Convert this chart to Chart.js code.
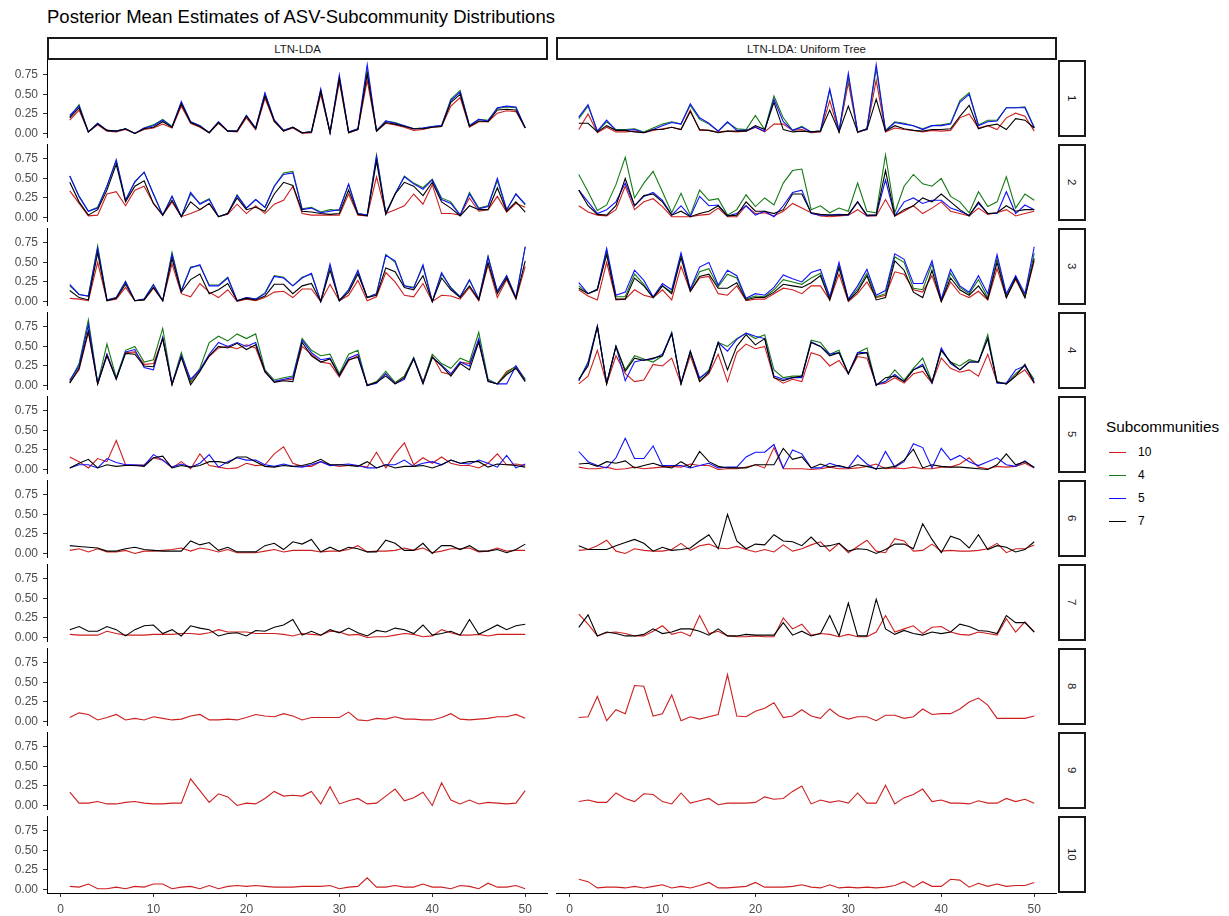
<!DOCTYPE html>
<html>
<head>
<meta charset="utf-8">
<title>Posterior Mean Estimates of ASV-Subcommunity Distributions</title>
<script src="https://cdn.jsdelivr.net/npm/chart.js@4.4.1/dist/chart.umd.min.js"></script>
<style>
  body { margin: 0; background: #fff; font-family: "Liberation Sans", Arial, sans-serif; }
  #page { position: relative; width: 1229px; height: 916px; overflow: hidden; }
  .ptitle { position: absolute; font-size: 18.5px; color: #000; white-space: nowrap; }
  .strip { position: absolute; box-sizing: border-box; border: 2px solid #1a1a1a; background: #fff;
           display: flex; align-items: center; justify-content: center; font-size: 11.4px; color: #1a1a1a; }
  .strip.row span { writing-mode: vertical-rl; }
  canvas { position: absolute; }
  .ltitle { position: absolute; left: 1106px; top: 418px; font-size: 15.3px; color: #000; }
  .lkey { position: absolute; left: 1109px; width: 17px; height: 1px; }
  .llab { position: absolute; left: 1138px; font-size: 12px; color: #000; line-height: 14px; }
</style>
</head>
<body>
<div id="page"></div>
<script>
// ASV index and axis ticks
const asv = [1,2,3,4,5,6,7,8,9,10,11,12,13,14,15,16,17,18,19,20,21,22,23,24,25,
             26,27,28,29,30,31,32,33,34,35,36,37,38,39,40,41,42,43,44,45,46,47,48,49,50];
const xTicks = [0, 10, 20, 30, 40, 50];
const yTicks = [0, 0.25, 0.5, 0.75];
const columns = ['LTN-LDA', 'LTN-LDA: Uniform Tree'];
const rowLabels = ['1','2','3','4','5','6','7','8','9','10'];
const subcommunities = ['10', '4', '5', '7'];

// LTN-LDA, subcommunity 1..10  (L<row>_<model>)
const L1_10 = [0.17,0.30,0.02,0.11,0.03,0.02,0.05,0.00,0.05,0.07,0.12,0.07,0.35,0.13,0.08,0.01,0.13,0.03,0.02,0.20,0.05,0.45,0.15,0.03,0.07,0.00,0.01,0.50,0.01,0.66,0.01,0.05,0.68,0.03,0.13,0.11,0.08,0.04,0.05,0.08,0.09,0.35,0.46,0.08,0.15,0.15,0.26,0.29,0.28,0.07];
const L1_4  = [0.21,0.37,0.02,0.13,0.04,0.03,0.06,0.00,0.07,0.11,0.18,0.09,0.39,0.15,0.10,0.01,0.15,0.03,0.03,0.23,0.07,0.51,0.17,0.04,0.08,0.01,0.02,0.55,0.01,0.72,0.02,0.06,0.80,0.04,0.16,0.14,0.10,0.06,0.07,0.09,0.10,0.44,0.55,0.10,0.18,0.17,0.32,0.34,0.33,0.07];
const L1_5  = [0.23,0.35,0.02,0.13,0.04,0.03,0.06,0.00,0.07,0.10,0.17,0.08,0.41,0.15,0.10,0.01,0.15,0.03,0.03,0.23,0.07,0.52,0.17,0.04,0.08,0.01,0.02,0.57,0.01,0.75,0.02,0.06,0.88,0.03,0.16,0.13,0.10,0.06,0.07,0.09,0.10,0.42,0.53,0.10,0.18,0.16,0.33,0.35,0.34,0.07];
const L1_7  = [0.20,0.33,0.02,0.12,0.04,0.03,0.06,0.00,0.06,0.08,0.15,0.08,0.38,0.14,0.09,0.01,0.14,0.03,0.03,0.22,0.06,0.48,0.16,0.03,0.08,0.01,0.02,0.54,0.01,0.70,0.01,0.05,0.76,0.03,0.14,0.12,0.09,0.06,0.06,0.08,0.09,0.40,0.50,0.09,0.16,0.15,0.30,0.31,0.30,0.07];

const L2_10 = [0.34,0.18,0.02,0.03,0.30,0.33,0.15,0.35,0.40,0.18,0.03,0.20,0.01,0.05,0.10,0.18,0.01,0.04,0.17,0.05,0.15,0.05,0.17,0.22,0.40,0.05,0.03,0.03,0.03,0.03,0.30,0.03,0.02,0.52,0.05,0.10,0.15,0.30,0.17,0.42,0.05,0.05,0.03,0.25,0.08,0.10,0.27,0.07,0.18,0.13];
const L2_4  = [0.53,0.27,0.08,0.13,0.40,0.72,0.22,0.45,0.58,0.30,0.03,0.27,0.01,0.30,0.18,0.24,0.01,0.05,0.29,0.12,0.23,0.13,0.40,0.57,0.59,0.11,0.13,0.07,0.10,0.09,0.42,0.05,0.03,0.80,0.06,0.30,0.53,0.44,0.38,0.49,0.25,0.20,0.03,0.32,0.12,0.15,0.47,0.10,0.30,0.16];
const L2_5  = [0.53,0.27,0.08,0.12,0.40,0.74,0.22,0.46,0.58,0.30,0.03,0.27,0.01,0.32,0.17,0.23,0.01,0.05,0.28,0.12,0.23,0.13,0.40,0.55,0.57,0.10,0.12,0.06,0.08,0.10,0.43,0.05,0.03,0.78,0.05,0.30,0.52,0.43,0.36,0.48,0.23,0.18,0.03,0.30,0.11,0.14,0.50,0.10,0.30,0.17];
const L2_7  = [0.45,0.20,0.03,0.10,0.35,0.68,0.20,0.40,0.47,0.18,0.03,0.22,0.01,0.20,0.10,0.18,0.01,0.05,0.25,0.10,0.13,0.08,0.30,0.45,0.41,0.08,0.07,0.05,0.04,0.05,0.35,0.04,0.02,0.72,0.04,0.30,0.45,0.40,0.28,0.45,0.20,0.12,0.02,0.15,0.10,0.10,0.38,0.08,0.20,0.07];

const L3_10 = [0.04,0.03,0.01,0.50,0.01,0.03,0.18,0.01,0.02,0.17,0.01,0.48,0.10,0.06,0.23,0.12,0.05,0.15,0.00,0.03,0.01,0.05,0.12,0.13,0.05,0.16,0.16,0.00,0.22,0.01,0.08,0.27,0.01,0.06,0.37,0.25,0.08,0.06,0.23,0.00,0.08,0.07,0.03,0.18,0.01,0.47,0.05,0.28,0.03,0.45];
const L3_4  = [0.20,0.09,0.07,0.71,0.02,0.05,0.26,0.01,0.03,0.22,0.01,0.63,0.14,0.44,0.46,0.21,0.21,0.31,0.01,0.05,0.03,0.11,0.33,0.31,0.20,0.31,0.35,0.00,0.45,0.01,0.15,0.38,0.05,0.10,0.60,0.50,0.20,0.18,0.45,0.00,0.35,0.18,0.06,0.27,0.03,0.58,0.13,0.33,0.05,0.70];
const L3_5  = [0.22,0.09,0.07,0.68,0.02,0.05,0.25,0.01,0.03,0.21,0.01,0.60,0.13,0.43,0.47,0.20,0.20,0.30,0.01,0.05,0.03,0.10,0.32,0.30,0.20,0.30,0.36,0.00,0.48,0.01,0.15,0.40,0.05,0.10,0.59,0.52,0.20,0.17,0.47,0.00,0.37,0.17,0.06,0.28,0.03,0.57,0.13,0.33,0.05,0.70];
const L3_7  = [0.14,0.05,0.02,0.62,0.01,0.04,0.22,0.01,0.02,0.18,0.01,0.55,0.12,0.28,0.35,0.10,0.15,0.23,0.01,0.04,0.02,0.07,0.22,0.22,0.10,0.20,0.23,0.00,0.40,0.01,0.12,0.35,0.05,0.08,0.43,0.38,0.18,0.15,0.33,0.00,0.30,0.15,0.05,0.20,0.02,0.50,0.10,0.30,0.04,0.52];

const L4_10 = [0.04,0.20,0.68,0.02,0.40,0.10,0.42,0.43,0.27,0.28,0.60,0.01,0.38,0.04,0.20,0.37,0.48,0.50,0.47,0.52,0.48,0.17,0.05,0.07,0.08,0.50,0.40,0.30,0.28,0.11,0.32,0.38,0.01,0.04,0.15,0.03,0.12,0.34,0.05,0.38,0.17,0.14,0.30,0.28,0.55,0.06,0.02,0.18,0.24,0.08];
const L4_4  = [0.05,0.28,0.84,0.03,0.53,0.10,0.45,0.50,0.30,0.33,0.73,0.02,0.42,0.05,0.22,0.55,0.63,0.57,0.66,0.60,0.66,0.20,0.07,0.10,0.12,0.60,0.45,0.38,0.40,0.15,0.40,0.45,0.00,0.05,0.18,0.04,0.12,0.36,0.04,0.40,0.28,0.22,0.35,0.30,0.68,0.08,0.02,0.16,0.25,0.08];
const L4_5  = [0.07,0.25,0.78,0.03,0.40,0.08,0.43,0.46,0.23,0.20,0.62,0.02,0.38,0.08,0.20,0.40,0.55,0.50,0.55,0.50,0.55,0.18,0.05,0.08,0.10,0.58,0.42,0.33,0.35,0.12,0.35,0.40,0.00,0.03,0.15,0.02,0.08,0.35,0.03,0.36,0.26,0.15,0.30,0.25,0.60,0.06,0.02,0.02,0.25,0.06];
const L4_7  = [0.03,0.22,0.70,0.02,0.38,0.08,0.41,0.40,0.25,0.24,0.60,0.01,0.36,0.01,0.18,0.38,0.50,0.48,0.54,0.46,0.52,0.18,0.04,0.06,0.05,0.55,0.38,0.30,0.34,0.13,0.33,0.36,0.00,0.04,0.12,0.02,0.10,0.34,0.02,0.36,0.25,0.12,0.28,0.20,0.56,0.05,0.02,0.14,0.22,0.05];

const L5_10 = [0.16,0.10,0.02,0.14,0.10,0.37,0.06,0.05,0.06,0.15,0.12,0.02,0.10,0.01,0.20,0.05,0.03,0.01,0.02,0.08,0.05,0.06,0.20,0.29,0.08,0.04,0.04,0.10,0.06,0.04,0.05,0.05,0.03,0.22,0.02,0.20,0.34,0.06,0.15,0.08,0.16,0.08,0.05,0.05,0.02,0.08,0.20,0.06,0.07,0.05];
const L5_5  = [0.02,0.06,0.06,0.02,0.14,0.09,0.06,0.06,0.05,0.19,0.12,0.03,0.07,0.03,0.08,0.19,0.03,0.10,0.15,0.12,0.12,0.06,0.04,0.07,0.04,0.03,0.06,0.10,0.05,0.06,0.07,0.05,0.02,0.02,0.06,0.06,0.12,0.04,0.08,0.10,0.06,0.12,0.08,0.07,0.12,0.08,0.03,0.18,0.02,0.07];
const L5_7  = [0.02,0.08,0.13,0.02,0.06,0.04,0.05,0.05,0.04,0.15,0.17,0.02,0.05,0.03,0.05,0.10,0.10,0.08,0.16,0.16,0.10,0.04,0.03,0.05,0.04,0.05,0.08,0.13,0.06,0.06,0.05,0.04,0.10,0.02,0.06,0.02,0.04,0.04,0.05,0.02,0.06,0.12,0.08,0.10,0.10,0.03,0.07,0.06,0.05,0.03];

const L6_10 = [0.04,0.06,0.02,0.06,0.02,0.02,0.04,0.00,0.03,0.03,0.04,0.05,0.07,0.03,0.07,0.05,0.02,0.05,0.01,0.01,0.01,0.03,0.05,0.02,0.04,0.04,0.04,0.02,0.03,0.03,0.05,0.10,0.02,0.03,0.03,0.04,0.07,0.04,0.07,0.01,0.03,0.06,0.06,0.07,0.02,0.03,0.07,0.03,0.04,0.04];
const L6_7  = [0.10,0.09,0.08,0.07,0.03,0.03,0.06,0.08,0.05,0.04,0.03,0.03,0.03,0.16,0.11,0.14,0.04,0.08,0.02,0.02,0.02,0.10,0.13,0.05,0.15,0.12,0.18,0.02,0.08,0.03,0.08,0.06,0.02,0.02,0.17,0.13,0.04,0.04,0.13,0.00,0.10,0.10,0.05,0.10,0.03,0.03,0.05,0.01,0.05,0.12];

const L7_10 = [0.04,0.03,0.03,0.03,0.08,0.05,0.03,0.03,0.03,0.04,0.04,0.04,0.05,0.05,0.04,0.06,0.10,0.07,0.07,0.07,0.05,0.05,0.05,0.04,0.02,0.05,0.04,0.03,0.08,0.07,0.03,0.04,0.00,0.01,0.01,0.03,0.05,0.04,0.01,0.02,0.10,0.06,0.03,0.03,0.04,0.02,0.04,0.04,0.04,0.04];
const L7_7  = [0.10,0.14,0.08,0.08,0.14,0.10,0.02,0.10,0.15,0.16,0.05,0.10,0.02,0.15,0.12,0.10,0.02,0.05,0.06,0.02,0.09,0.08,0.13,0.16,0.23,0.03,0.08,0.03,0.10,0.06,0.12,0.06,0.02,0.09,0.07,0.12,0.10,0.05,0.16,0.03,0.05,0.08,0.03,0.23,0.04,0.10,0.16,0.10,0.15,0.17];

const L8_10 = [0.05,0.11,0.09,0.02,0.05,0.09,0.02,0.04,0.02,0.06,0.04,0.02,0.03,0.07,0.09,0.02,0.02,0.03,0.02,0.05,0.09,0.07,0.06,0.10,0.07,0.02,0.05,0.05,0.05,0.05,0.12,0.02,0.01,0.04,0.03,0.06,0.03,0.03,0.02,0.02,0.05,0.10,0.03,0.02,0.03,0.04,0.06,0.06,0.09,0.04];
const L9_10 = [0.17,0.03,0.03,0.05,0.02,0.02,0.04,0.05,0.03,0.02,0.02,0.03,0.03,0.34,0.19,0.04,0.15,0.11,0.00,0.03,0.02,0.09,0.18,0.12,0.13,0.12,0.18,0.02,0.24,0.02,0.06,0.09,0.02,0.03,0.12,0.21,0.06,0.10,0.17,0.00,0.29,0.07,0.02,0.07,0.02,0.04,0.03,0.02,0.03,0.19];
const L10_10 = [0.04,0.03,0.07,0.01,0.01,0.03,0.01,0.04,0.03,0.07,0.07,0.01,0.03,0.04,0.01,0.05,0.01,0.04,0.05,0.04,0.05,0.04,0.03,0.03,0.03,0.04,0.04,0.04,0.05,0.01,0.03,0.04,0.15,0.03,0.03,0.05,0.03,0.03,0.07,0.03,0.03,0.01,0.05,0.04,0.01,0.08,0.03,0.03,0.05,0.01];

// LTN-LDA: Uniform Tree  (U<row>_<model>)
const U1_10 = [0.05,0.25,0.01,0.08,0.02,0.02,0.03,0.01,0.04,0.06,0.08,0.05,0.30,0.04,0.04,0.02,0.03,0.02,0.03,0.08,0.02,0.12,0.12,0.04,0.05,0.01,0.02,0.42,0.02,0.65,0.01,0.06,0.68,0.02,0.07,0.05,0.04,0.02,0.04,0.03,0.04,0.20,0.25,0.07,0.10,0.05,0.20,0.26,0.22,0.03];
const U1_4  = [0.19,0.35,0.03,0.15,0.05,0.05,0.06,0.02,0.07,0.12,0.15,0.12,0.36,0.18,0.12,0.03,0.14,0.06,0.05,0.23,0.05,0.48,0.20,0.04,0.09,0.02,0.03,0.55,0.03,0.72,0.02,0.06,0.83,0.04,0.15,0.13,0.10,0.06,0.10,0.11,0.13,0.42,0.52,0.11,0.17,0.17,0.33,0.33,0.34,0.08];
const U1_5  = [0.21,0.37,0.03,0.17,0.04,0.04,0.05,0.01,0.05,0.10,0.14,0.12,0.38,0.20,0.13,0.03,0.15,0.04,0.04,0.08,0.03,0.44,0.15,0.04,0.08,0.02,0.03,0.57,0.03,0.77,0.02,0.06,0.88,0.03,0.14,0.12,0.10,0.05,0.10,0.10,0.12,0.40,0.50,0.10,0.15,0.16,0.33,0.33,0.33,0.07];
const U1_7  = [0.13,0.13,0.02,0.10,0.04,0.04,0.02,0.01,0.05,0.05,0.08,0.05,0.28,0.05,0.04,0.01,0.03,0.03,0.03,0.10,0.05,0.40,0.05,0.02,0.03,0.02,0.03,0.30,0.02,0.35,0.02,0.05,0.44,0.03,0.10,0.06,0.04,0.03,0.05,0.05,0.06,0.22,0.36,0.06,0.10,0.12,0.05,0.19,0.17,0.07];

const U2_10 = [0.15,0.07,0.03,0.02,0.10,0.40,0.10,0.20,0.24,0.14,0.01,0.01,0.01,0.03,0.04,0.12,0.01,0.01,0.15,0.05,0.06,0.02,0.08,0.18,0.12,0.06,0.02,0.01,0.02,0.03,0.10,0.02,0.02,0.23,0.02,0.08,0.15,0.05,0.12,0.20,0.08,0.05,0.02,0.12,0.04,0.06,0.10,0.02,0.05,0.08];
const U2_4  = [0.55,0.33,0.09,0.16,0.42,0.77,0.25,0.44,0.59,0.33,0.06,0.31,0.03,0.35,0.22,0.24,0.03,0.10,0.29,0.14,0.25,0.16,0.44,0.60,0.62,0.10,0.15,0.06,0.12,0.08,0.44,0.08,0.06,0.80,0.06,0.40,0.55,0.43,0.40,0.50,0.27,0.20,0.06,0.33,0.14,0.20,0.52,0.12,0.30,0.22];
const U2_5  = [0.35,0.20,0.05,0.10,0.20,0.44,0.15,0.27,0.32,0.22,0.03,0.15,0.01,0.27,0.15,0.16,0.02,0.05,0.15,0.03,0.08,0.01,0.15,0.32,0.35,0.05,0.03,0.03,0.04,0.03,0.20,0.02,0.03,0.48,0.02,0.20,0.25,0.18,0.22,0.22,0.12,0.08,0.03,0.18,0.05,0.05,0.33,0.05,0.16,0.10];
const U2_7  = [0.35,0.15,0.04,0.03,0.15,0.50,0.15,0.28,0.30,0.20,0.03,0.08,0.01,0.05,0.08,0.15,0.02,0.03,0.20,0.08,0.08,0.05,0.10,0.30,0.30,0.06,0.04,0.03,0.03,0.04,0.20,0.03,0.03,0.60,0.02,0.10,0.15,0.25,0.20,0.30,0.20,0.10,0.02,0.20,0.05,0.06,0.15,0.08,0.10,0.10];

const U3_10 = [0.15,0.07,0.02,0.50,0.02,0.03,0.15,0.08,0.05,0.15,0.02,0.45,0.13,0.30,0.32,0.10,0.08,0.20,0.01,0.03,0.03,0.10,0.17,0.15,0.10,0.20,0.20,0.02,0.35,0.00,0.10,0.25,0.05,0.08,0.38,0.35,0.15,0.12,0.33,0.00,0.25,0.10,0.05,0.13,0.02,0.42,0.05,0.28,0.05,0.52];
const U3_4  = [0.20,0.10,0.15,0.65,0.06,0.06,0.35,0.22,0.05,0.20,0.12,0.60,0.15,0.38,0.42,0.19,0.35,0.30,0.03,0.07,0.06,0.15,0.28,0.25,0.22,0.30,0.36,0.05,0.47,0.02,0.16,0.36,0.06,0.10,0.57,0.50,0.17,0.15,0.48,0.01,0.36,0.18,0.10,0.28,0.05,0.55,0.07,0.32,0.07,0.62];
const U3_5  = [0.24,0.10,0.16,0.68,0.08,0.12,0.40,0.27,0.06,0.23,0.15,0.62,0.16,0.44,0.50,0.21,0.40,0.33,0.04,0.10,0.08,0.18,0.34,0.29,0.25,0.37,0.41,0.06,0.50,0.03,0.20,0.41,0.08,0.14,0.61,0.54,0.23,0.23,0.52,0.03,0.41,0.20,0.12,0.33,0.10,0.60,0.10,0.33,0.10,0.70];
const U3_7  = [0.17,0.10,0.15,0.60,0.03,0.03,0.30,0.20,0.05,0.20,0.10,0.56,0.13,0.32,0.35,0.17,0.17,0.24,0.02,0.05,0.05,0.12,0.22,0.20,0.18,0.24,0.33,0.02,0.43,0.01,0.13,0.33,0.02,0.05,0.52,0.40,0.12,0.05,0.40,0.00,0.30,0.15,0.08,0.20,0.03,0.50,0.05,0.30,0.05,0.55];

const U4_10 = [0.02,0.12,0.45,0.02,0.38,0.15,0.05,0.07,0.27,0.25,0.35,0.02,0.38,0.05,0.15,0.40,0.05,0.42,0.53,0.47,0.50,0.10,0.03,0.08,0.05,0.42,0.38,0.25,0.32,0.15,0.37,0.35,0.01,0.03,0.10,0.03,0.15,0.18,0.03,0.35,0.22,0.17,0.20,0.12,0.40,0.04,0.02,0.12,0.20,0.03];
const U4_4  = [0.06,0.30,0.76,0.03,0.50,0.20,0.38,0.34,0.30,0.38,0.68,0.02,0.42,0.08,0.20,0.55,0.50,0.60,0.67,0.60,0.65,0.20,0.10,0.12,0.12,0.58,0.55,0.40,0.45,0.15,0.42,0.48,0.01,0.05,0.20,0.07,0.22,0.35,0.05,0.45,0.30,0.25,0.33,0.30,0.65,0.05,0.02,0.15,0.25,0.08];
const U4_5  = [0.06,0.29,0.76,0.03,0.50,0.06,0.30,0.33,0.34,0.40,0.67,0.03,0.44,0.10,0.18,0.55,0.44,0.59,0.67,0.63,0.60,0.12,0.08,0.10,0.10,0.56,0.50,0.40,0.42,0.15,0.42,0.42,0.01,0.05,0.14,0.05,0.20,0.27,0.03,0.48,0.28,0.20,0.30,0.30,0.60,0.03,0.03,0.20,0.25,0.05];
const U4_7  = [0.08,0.25,0.75,0.02,0.50,0.18,0.35,0.32,0.35,0.38,0.66,0.02,0.44,0.05,0.17,0.55,0.20,0.50,0.65,0.52,0.60,0.10,0.06,0.10,0.12,0.55,0.50,0.38,0.42,0.15,0.40,0.42,0.00,0.10,0.12,0.05,0.20,0.25,0.04,0.45,0.30,0.20,0.30,0.30,0.60,0.04,0.02,0.12,0.27,0.03];

const U5_10 = [0.03,0.01,0.01,0.03,0.00,0.01,0.03,0.01,0.02,0.03,0.04,0.03,0.07,0.05,0.05,0.00,0.01,0.01,0.03,0.06,0.02,0.28,0.01,0.01,0.01,0.00,0.01,0.03,0.01,0.01,0.02,0.04,0.07,0.01,0.02,0.01,0.03,0.01,0.01,0.03,0.03,0.07,0.15,0.03,0.01,0.04,0.03,0.04,0.08,0.02];
const U5_5  = [0.23,0.10,0.05,0.02,0.15,0.40,0.14,0.14,0.30,0.05,0.05,0.05,0.02,0.05,0.08,0.02,0.03,0.03,0.16,0.22,0.22,0.32,0.02,0.25,0.20,0.02,0.02,0.08,0.04,0.02,0.18,0.07,0.00,0.23,0.03,0.10,0.33,0.28,0.02,0.27,0.12,0.18,0.10,0.05,0.10,0.15,0.06,0.04,0.11,0.02];
const U5_7  = [0.07,0.08,0.04,0.10,0.08,0.11,0.02,0.05,0.08,0.04,0.02,0.10,0.03,0.23,0.10,0.04,0.02,0.02,0.02,0.06,0.06,0.06,0.27,0.13,0.16,0.02,0.07,0.03,0.05,0.02,0.06,0.04,0.01,0.02,0.04,0.12,0.26,0.02,0.06,0.04,0.03,0.03,0.02,0.01,0.00,0.06,0.20,0.06,0.10,0.03];

const U6_10 = [0.04,0.05,0.10,0.17,0.03,0.00,0.06,0.04,0.03,0.03,0.05,0.13,0.04,0.10,0.12,0.07,0.06,0.09,0.05,0.02,0.05,0.02,0.11,0.03,0.06,0.11,0.15,0.03,0.13,0.01,0.09,0.17,0.03,0.01,0.19,0.16,0.03,0.04,0.12,0.03,0.04,0.03,0.03,0.04,0.06,0.13,0.01,0.06,0.06,0.11];
const U6_7  = [0.10,0.05,0.05,0.05,0.10,0.14,0.18,0.13,0.03,0.08,0.04,0.05,0.07,0.16,0.24,0.06,0.50,0.16,0.06,0.12,0.11,0.24,0.16,0.15,0.10,0.21,0.09,0.10,0.13,0.03,0.06,0.05,0.00,0.05,0.12,0.12,0.06,0.38,0.18,0.01,0.22,0.18,0.07,0.24,0.05,0.10,0.08,0.02,0.05,0.15];

const U7_10 = [0.30,0.17,0.02,0.06,0.07,0.05,0.02,0.02,0.08,0.15,0.04,0.07,0.02,0.28,0.05,0.08,0.02,0.01,0.01,0.02,0.01,0.01,0.25,0.11,0.17,0.03,0.05,0.04,0.01,0.04,0.01,0.01,0.07,0.28,0.07,0.11,0.15,0.05,0.13,0.14,0.07,0.04,0.03,0.07,0.05,0.03,0.24,0.07,0.20,0.07];
const U7_7  = [0.13,0.29,0.02,0.07,0.05,0.02,0.02,0.04,0.11,0.05,0.07,0.11,0.11,0.08,0.03,0.11,0.02,0.02,0.04,0.03,0.03,0.03,0.19,0.03,0.08,0.02,0.05,0.28,0.02,0.44,0.02,0.02,0.49,0.11,0.04,0.09,0.05,0.03,0.07,0.05,0.07,0.17,0.14,0.09,0.08,0.05,0.28,0.19,0.19,0.07];

const U8_10 = [0.05,0.06,0.32,0.01,0.15,0.10,0.46,0.45,0.07,0.10,0.34,0.01,0.06,0.03,0.06,0.09,0.60,0.07,0.06,0.13,0.17,0.24,0.05,0.07,0.15,0.07,0.04,0.16,0.07,0.03,0.06,0.06,0.01,0.08,0.08,0.04,0.06,0.16,0.09,0.10,0.10,0.16,0.25,0.30,0.21,0.04,0.04,0.04,0.04,0.07];
const U9_10 = [0.05,0.07,0.04,0.04,0.16,0.09,0.05,0.15,0.14,0.05,0.02,0.16,0.03,0.06,0.09,0.01,0.03,0.03,0.03,0.04,0.11,0.08,0.09,0.18,0.25,0.02,0.07,0.04,0.06,0.03,0.16,0.03,0.03,0.26,0.02,0.10,0.14,0.21,0.05,0.07,0.03,0.03,0.02,0.06,0.03,0.03,0.09,0.05,0.08,0.03];
const U10_10 = [0.13,0.10,0.02,0.03,0.03,0.02,0.04,0.02,0.04,0.06,0.02,0.04,0.02,0.05,0.09,0.02,0.02,0.03,0.04,0.09,0.03,0.03,0.03,0.04,0.06,0.03,0.02,0.06,0.02,0.03,0.02,0.03,0.02,0.03,0.05,0.10,0.03,0.10,0.04,0.04,0.13,0.12,0.03,0.08,0.04,0.07,0.04,0.05,0.05,0.09];

// one row per subcommunity, one entry per column
const panels = [
  [{ '10': L1_10, '4': L1_4, '5': L1_5, '7': L1_7 }, { '10': U1_10, '4': U1_4, '5': U1_5, '7': U1_7 }],
  [{ '10': L2_10, '4': L2_4, '5': L2_5, '7': L2_7 }, { '10': U2_10, '4': U2_4, '5': U2_5, '7': U2_7 }],
  [{ '10': L3_10, '4': L3_4, '5': L3_5, '7': L3_7 }, { '10': U3_10, '4': U3_4, '5': U3_5, '7': U3_7 }],
  [{ '10': L4_10, '4': L4_4, '5': L4_5, '7': L4_7 }, { '10': U4_10, '4': U4_4, '5': U4_5, '7': U4_7 }],
  [{ '10': L5_10, '5': L5_5, '7': L5_7 }, { '10': U5_10, '5': U5_5, '7': U5_7 }],
  [{ '10': L6_10, '7': L6_7 }, { '10': U6_10, '7': U6_7 }],
  [{ '10': L7_10, '7': L7_7 }, { '10': U7_10, '7': U7_7 }],
  [{ '10': L8_10 }, { '10': U8_10 }],
  [{ '10': L9_10 }, { '10': U9_10 }],
  [{ '10': L10_10 }, { '10': U10_10 }]
];

const lineColours = { '10': '#cd1f1f', '4': '#157a15', '5': '#1010ff', '7': '#000000' };
const drawOrder = { '10': 4, '4': 3, '5': 2, '7': 1 };   // black ends up on top

// layout (px)
const PANEL_TOP = 60, ROW_STEP = 84, PANEL_H = 77;
const AXIS_W = 47, X_AXIS_H = 26, LABEL_PAD = 6;
const colLeft = [0, 556], colWidth = [548, 501];
const STRIP_X = 1058, STRIP_W = 28;

Chart.defaults.font.family = '"Liberation Sans", Arial, sans-serif';

const page = document.getElementById('page');

function addDiv(cls, css, text) {
  const d = document.createElement('div');
  d.className = cls;
  Object.assign(d.style, css);
  if (text !== undefined) d.textContent = text;
  page.appendChild(d);
  return d;
}

addDiv('ptitle', { left: '47px', top: '6px' }, 'Posterior Mean Estimates of ASV-Subcommunity Distributions');

// column strips
columns.forEach((name, c) => {
  addDiv('strip', { left: (colLeft[c] + (c === 0 ? AXIS_W : 0)) + 'px', top: '37px', width: '501px', height: '23px' }, name);
});

rowLabels.forEach((rowLab, r) => {
  const top = PANEL_TOP + ROW_STEP * r;
  const bottomRow = r === rowLabels.length - 1;

  const s = addDiv('strip row', { left: STRIP_X + 'px', top: top + 'px', width: STRIP_W + 'px', height: PANEL_H + 'px' });
  const sp = document.createElement('span');
  sp.textContent = rowLab;
  s.appendChild(sp);

  columns.forEach((colName, c) => {
    const withY = c === 0;
    const h = PANEL_H + (bottomRow ? X_AXIS_H : LABEL_PAD);
    const cv = document.createElement('canvas');
    cv.width = colWidth[c];
    cv.height = h;
    cv.style.left = colLeft[c] + 'px';
    cv.style.top = top + 'px';
    cv.style.width = colWidth[c] + 'px';
    cv.style.height = h + 'px';
    page.appendChild(cv);

    const series = panels[r][c];
    const datasets = subcommunities.filter(k => series[k]).map(k => ({
      label: k,
      data: series[k].map((v, i) => ({ x: asv[i], y: v })),
      borderColor: lineColours[k],
      borderWidth: 1.1,
      pointRadius: 0,
      tension: 0,
      fill: false,
      order: drawOrder[k]
    }));

    const axisGrid = { drawOnChartArea: false, drawTicks: true, tickLength: 4, color: '#333' };
    const axisBorder = { display: true, color: '#000', width: 1 };
    const tickFont = { size: 12 };

    new Chart(cv.getContext('2d'), {
      type: 'line',
      data: { datasets },
      options: {
        responsive: false,
        animation: false,
        devicePixelRatio: 1,
        events: [],
        layout: { padding: { top: 0, left: 0, right: 0, bottom: bottomRow ? 0 : LABEL_PAD } },
        plugins: { legend: { display: false }, tooltip: { enabled: false } },
        scales: {
          x: {
            type: 'linear',
            min: -1.45,
            max: 52.45,
            display: bottomRow,
            afterBuildTicks: sc => { sc.ticks = xTicks.map(v => ({ value: v })); },
            afterFit: sc => {
              if (!bottomRow) return;
              sc.height = X_AXIS_H; sc.paddingLeft = 0; sc.paddingRight = 0;
            },
            grid: axisGrid,
            border: axisBorder,
            ticks: { color: '#4d4d4d', font: tickFont, padding: 5, maxRotation: 0, autoSkip: false }
          },
          y: {
            type: 'linear',
            min: -0.045,
            max: 0.94,
            display: withY,
            afterBuildTicks: sc => { sc.ticks = yTicks.map(v => ({ value: v })); },
            afterFit: sc => {
              if (!withY) return;
              sc.width = AXIS_W; sc.paddingTop = 0; sc.paddingBottom = 0;
            },
            grid: axisGrid,
            border: axisBorder,
            ticks: { color: '#4d4d4d', font: tickFont, padding: 5, callback: v => Number(v).toFixed(2) }
          }
        }
      }
    });
  });
});

// legend
addDiv('ltitle', {}, 'Subcommunities');
subcommunities.forEach((k, i) => {
  const cy = 452 + 23 * i;
  addDiv('lkey', { top: cy + 'px', background: lineColours[k] });
  addDiv('llab', { top: (cy - 7) + 'px' }, k);
});
</script>
</body>
</html>
